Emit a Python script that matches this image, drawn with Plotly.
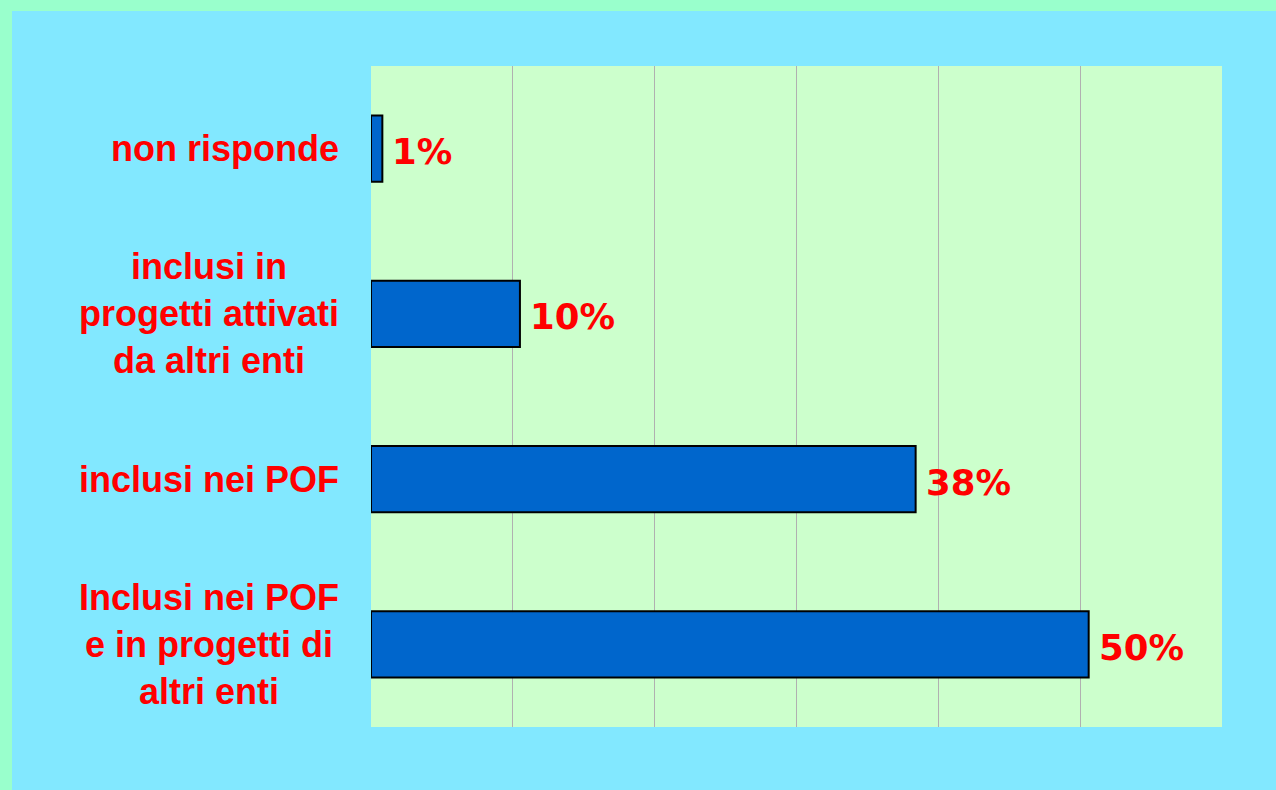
import plotly.graph_objects as go

categories = ["non risponde", "inclusi in<br>progetti attivati<br>da altri enti", "inclusi nei POF",
              "Inclusi nei POF<br>e in progetti di<br>altri enti"]
values = [0.8, 10.5, 38.4, 50.6]
value_labels = ["1%", "10%", "38%", "50%"]

fig = go.Figure()
fig.add_trace(go.Bar(
    y=categories, x=values, orientation="h",
    marker=dict(color="#0066CC", line=dict(color="#000000", width=2)),
    hoverinfo="skip",
))

for c, v, t in zip(categories, values, value_labels):
    fig.add_annotation(x=v, y=c, text=t, showarrow=False, xanchor="left", xshift=8, yshift=-3,
                       font=dict(family="DejaVu Sans", size=35.5, color="#FF0000", weight="bold"))
    fig.add_annotation(x=0, xref="paper", y=c, text=c, showarrow=False, xanchor="right",
                       align="center", xshift=-30,
                       font=dict(family="Liberation Sans", size=36, color="#FF0000", weight="bold"))

W, H = 1276, 790
l, r, t, b = 371, 54, 66, 63
pw, ph = W - l - r, H - t - b
def px(xp):
    return (xp - l) / pw
def py(yp):
    return (H - b - yp) / ph

mint = "#99FFCC"
fig.add_shape(type="rect", xref="paper", yref="paper", x0=px(0), x1=px(W), y0=py(0), y1=py(11),
              fillcolor=mint, line=dict(width=0), layer="below")
fig.add_shape(type="rect", xref="paper", yref="paper", x0=px(0), x1=px(12), y0=py(H), y1=py(0),
              fillcolor=mint, line=dict(width=0), layer="below")

fig.update_layout(
    width=W, height=H,
    margin=dict(l=l, r=r, t=t, b=b),
    paper_bgcolor="#82E8FF",
    plot_bgcolor="#CCFFCC",
    bargap=0.6,
    showlegend=False,
    xaxis=dict(range=[0, 60], dtick=10, showticklabels=False, showgrid=True,
               gridcolor="#B0B0B0", gridwidth=1, zeroline=False, showline=False, fixedrange=True),
    yaxis=dict(autorange="reversed", showticklabels=False, showgrid=False, zeroline=False,
               showline=False, fixedrange=True),
)

fig.write_html("out.html", config={"displayModeBar": False},
               post_script="document.body.style.margin='0';document.body.style.overflow='hidden';")
